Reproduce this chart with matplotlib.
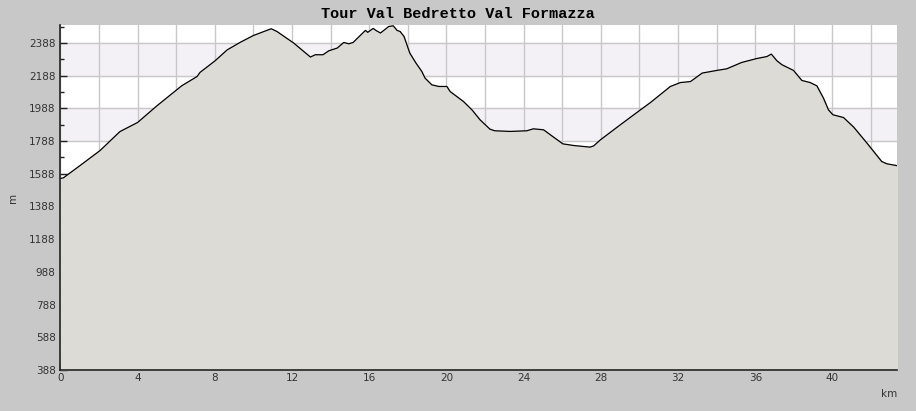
import matplotlib.pyplot as plt
from matplotlib.ticker import MultipleLocator, FuncFormatter, FixedLocator

# distance (km) and elevation (m)
dist_km = [0.0, 0.15, 1.01, 2.05, 3.08, 4.0, 5.0, 6.28, 7.08, 7.23, 8.0,
           8.64, 9.33, 10.0, 10.92, 11.22, 12.09, 12.95, 13.2, 13.6, 13.9,
           14.34, 14.68, 14.94, 15.16, 15.8, 15.92, 16.2, 16.37, 16.58, 17.01,
           17.24, 17.44, 17.6, 17.8, 18.1, 18.42, 18.72, 18.89, 19.24, 19.6,
           20.02, 20.19, 20.88, 21.32, 21.74, 22.25, 22.5, 23.3, 24.16, 24.5,
           25.03, 25.55, 26.03, 26.59, 27.44, 27.63, 27.98, 29.0, 30.05, 30.57,
           31.6, 32.12, 32.64, 33.25, 34.0, 34.52, 35.3, 36.08, 36.6, 36.83,
           37.12, 37.38, 37.98, 38.41, 38.84, 39.19, 39.53, 39.79, 40.02, 40.57,
           41.1, 41.79, 42.55, 42.82, 43.33]
elev_m = [1560, 1563, 1638, 1730, 1846, 1902, 2004, 2126, 2183, 2208, 2278,
          2346, 2393, 2434, 2475, 2458, 2387, 2302, 2316, 2316, 2340,
          2357, 2391, 2383, 2391, 2465, 2453, 2477, 2463, 2449, 2489,
          2493, 2465, 2458, 2428, 2326, 2265, 2214, 2173, 2132, 2122,
          2122, 2091, 2030, 1979, 1918, 1861, 1851, 1847, 1851, 1863,
          1857, 1812, 1771, 1761, 1751, 1759, 1796, 1887, 1979, 2024,
          2122, 2146, 2152, 2204, 2220, 2230, 2269, 2293, 2305, 2320,
          2279, 2255, 2220, 2159, 2146, 2126, 2051, 1979, 1949, 1932,
          1873, 1775, 1663, 1649, 1638]

shaded_bands = [(1788, 1988), (2188, 2388)]
y_min, y_max = 388, 2498
x_max = 43.33

fig = plt.figure(figsize=(9.16, 4.11), dpi=100, facecolor='#c8c8c8')
ax = fig.add_axes([0.066, 0.0998, 0.913, 0.8394])
ax.set_facecolor('white')

for lo, hi in shaded_bands:
    ax.axhspan(lo, hi, color='#f3f1f5', zorder=0)

ax.set_xlim(0, x_max)
ax.set_ylim(y_min, y_max)

ax.xaxis.set_major_locator(MultipleLocator(2))
ax.xaxis.set_minor_locator(MultipleLocator(1))
ax.xaxis.set_major_formatter(FuncFormatter(
    lambda v, p: '%d' % v if round(v) % 4 == 0 else ''))
ax.set_yticks(range(388, 2400, 200))
ax.yaxis.set_minor_locator(FixedLocator(range(488, 2498, 200)))

ax.grid(True, which='major', color='#c8c8c8', linewidth=1, zorder=1)
ax.set_axisbelow(True)

ax.fill_between(dist_km, elev_m, y_min, color='#dcdbd6', zorder=2)
ax.plot(dist_km, elev_m, color='black', linewidth=0.9, zorder=3)

for side in ['top', 'right']:
    ax.spines[side].set_visible(False)
for side in ['left', 'bottom']:
    ax.spines[side].set_color('#222222')
    ax.spines[side].set_linewidth(1.2)
    ax.spines[side].set_zorder(4)

ax.tick_params(which='both', direction='in', colors='#222222',
               labelcolor='#333333', labelsize=7.5)
ax.tick_params(which='major', length=5, width=1)
ax.tick_params(which='minor', length=3, width=1)
ax.tick_params(axis='x', pad=2)

fig.text(0.5, 0.965, 'Tour Val Bedretto Val Formazza', family='Liberation Mono',
         fontweight='bold', fontsize=11, ha='center', va='center')
ax.set_ylabel('m', fontsize=7.5, color='#333333', labelpad=8)
ax.text(1.0, -0.055, 'km', transform=ax.transAxes, ha='right', va='top',
        fontsize=7.5, color='#333333')

fig.savefig('out.png', dpi=100, facecolor=fig.get_facecolor())
